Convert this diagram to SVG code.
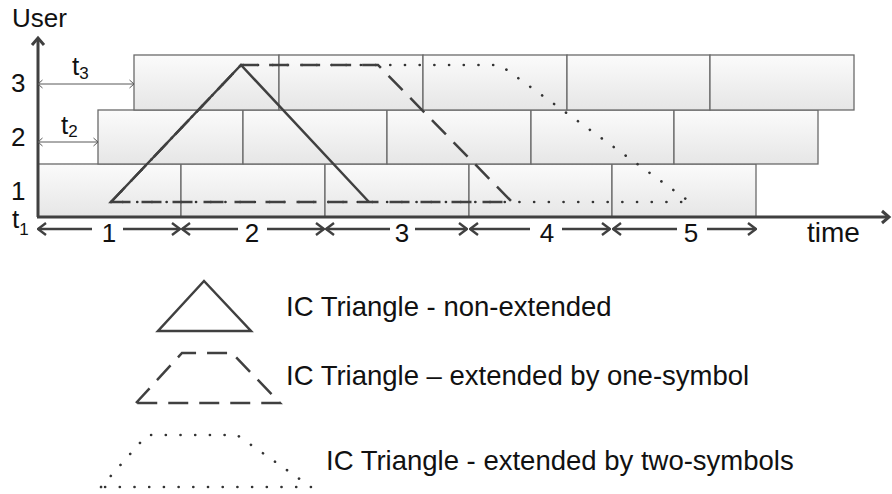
<svg xmlns="http://www.w3.org/2000/svg" width="892" height="494" viewBox="0 0 892 494">
<defs>
<linearGradient id="boxg" x1="0" y1="0" x2="0" y2="1">
<stop offset="0" stop-color="#fbfbfb"/>
<stop offset="1" stop-color="#e6e6e6"/>
</linearGradient>
<marker id="ah" viewBox="0 0 10 14" refX="9" refY="7" markerWidth="10" markerHeight="14" markerUnits="userSpaceOnUse" orient="auto-start-reverse">
<path d="M1,1 L9,7 L1,13" fill="none" stroke="#404040" stroke-width="2.4" stroke-linejoin="miter"/>
</marker>
<marker id="ahs" viewBox="0 0 6 10" refX="5.5" refY="5" markerWidth="6" markerHeight="10" markerUnits="userSpaceOnUse" orient="auto-start-reverse">
<path d="M1,1 L5.5,5 L1,9" fill="none" stroke="#595959" stroke-width="1"/>
</marker>
<style>
.box{fill:url(#boxg);stroke:#6a6a6a;stroke-width:1.3}
.solid{fill:none;stroke:#404040;stroke-width:2.5;stroke-linejoin:miter}
.dash{fill:none;stroke:#404040;stroke-width:2.5;stroke-dasharray:20 11}
.dot{fill:none;stroke:#333333;stroke-width:2.6;stroke-linecap:round;stroke-dasharray:0.1 14.6}
.axis{fill:none;stroke:#404040;stroke-width:3}
.iv{fill:none;stroke:#404040;stroke-width:2.4}
.thin{fill:none;stroke:#595959;stroke-width:1}
text{font-family:"Liberation Sans",Arial,sans-serif;fill:#111}
.lbl{font-size:26px}
.sub{font-size:17px}
.leg{font-size:27.5px}
</style>
</defs>
<rect width="892" height="494" fill="#ffffff"/>

<g id="row1">
<rect class="box" x="38" y="164" width="143" height="53"/>
<rect class="box" x="181" y="164" width="144" height="53"/>
<rect class="box" x="325" y="164" width="144" height="53"/>
<rect class="box" x="469" y="164" width="143" height="53"/>
<rect class="box" x="612" y="164" width="144" height="53"/>
</g>
<g id="row2">
<rect class="box" x="98" y="110" width="145" height="54"/>
<rect class="box" x="243" y="110" width="144" height="54"/>
<rect class="box" x="387" y="110" width="144" height="54"/>
<rect class="box" x="531" y="110" width="143" height="54"/>
<rect class="box" x="674" y="110" width="144" height="54"/>
</g>
<g id="row3">
<rect class="box" x="134" y="55" width="145" height="55"/>
<rect class="box" x="279" y="55" width="144" height="55"/>
<rect class="box" x="423" y="55" width="144" height="55"/>
<rect class="box" x="567" y="55" width="143" height="55"/>
<rect class="box" x="710" y="55" width="144" height="55"/>
</g>

<g id="triangles">
<polygon class="dot" points="111,202 241,65 500,65 690,202"/>
<polygon class="dash" points="111,202 241,65 378,65 512,202"/>
<polyline class="solid" points="111,202 241,65 369,202"/>
</g>

<g id="connectors">
<line class="axis" x1="38" y1="217" x2="38" y2="38"/>
<polyline class="axis" points="32,45 38,38 44,45" stroke-width="2.6"/>
<line class="axis" x1="37" y1="217" x2="889" y2="217"/>
<polyline class="axis" points="882,211 889,217 882,223" stroke-width="2.6"/>
<line class="thin" x1="38" y1="84" x2="134" y2="84" marker-start="url(#ahs)" marker-end="url(#ahs)"/>
<line class="thin" x1="38" y1="142" x2="98" y2="142" marker-start="url(#ahs)" marker-end="url(#ahs)"/>
<line class="iv" x1="38" y1="229" x2="92" y2="229" marker-start="url(#ah)"/>
<line class="iv" x1="123" y1="229" x2="180" y2="229" marker-end="url(#ah)"/>
<line class="iv" x1="182" y1="229" x2="238" y2="229" marker-start="url(#ah)"/>
<line class="iv" x1="267" y1="229" x2="324" y2="229" marker-end="url(#ah)"/>
<line class="iv" x1="326" y1="229" x2="390" y2="229" marker-start="url(#ah)"/>
<line class="iv" x1="415" y1="229" x2="467" y2="229" marker-end="url(#ah)"/>
<line class="iv" x1="470" y1="229" x2="530" y2="229" marker-start="url(#ah)"/>
<line class="iv" x1="562" y1="229" x2="610" y2="229" marker-end="url(#ah)"/>
<line class="iv" x1="613" y1="229" x2="677" y2="229" marker-start="url(#ah)"/>
<line class="iv" x1="707" y1="229" x2="756" y2="229" marker-end="url(#ah)"/>
</g>

<g id="labels">
<text class="lbl" x="12" y="27">User</text>
<text class="lbl" x="11" y="92">3</text>
<text class="lbl" x="11" y="146">2</text>
<text class="lbl" x="11" y="200">1</text>
<text class="lbl" x="12" y="228">t<tspan class="sub" dy="7">1</tspan></text>
<text class="lbl" x="72" y="75">t<tspan class="sub" dy="4">3</tspan></text>
<text class="lbl" x="61" y="134">t<tspan class="sub" dy="3">2</tspan></text>
<text class="lbl" x="109" y="242" text-anchor="middle">1</text>
<text class="lbl" x="252" y="242" text-anchor="middle">2</text>
<text class="lbl" x="402" y="242" text-anchor="middle">3</text>
<text class="lbl" x="547" y="242" text-anchor="middle">4</text>
<text class="lbl" x="691" y="242" text-anchor="middle">5</text>
<text class="lbl" x="807" y="242" style="font-size:28px">time</text>
</g>

<g id="legend-nonext">
<polygon class="solid" points="204,281 158,331 251,331"/>
<text class="leg" x="286" y="316">IC Triangle - non-extended</text>
</g>
<g id="legend-one">
<polygon class="dash" points="136,403 182,353 232,353 280,403"/>
<text class="leg" x="286" y="385">IC Triangle – extended by one-symbol</text>
</g>
<g id="legend-two">
<polygon class="dot" points="101,487 147,435 237,435 311,487"/>
<text class="leg" x="326" y="470">IC Triangle - extended by two-symbols</text>
</g>
</svg>
